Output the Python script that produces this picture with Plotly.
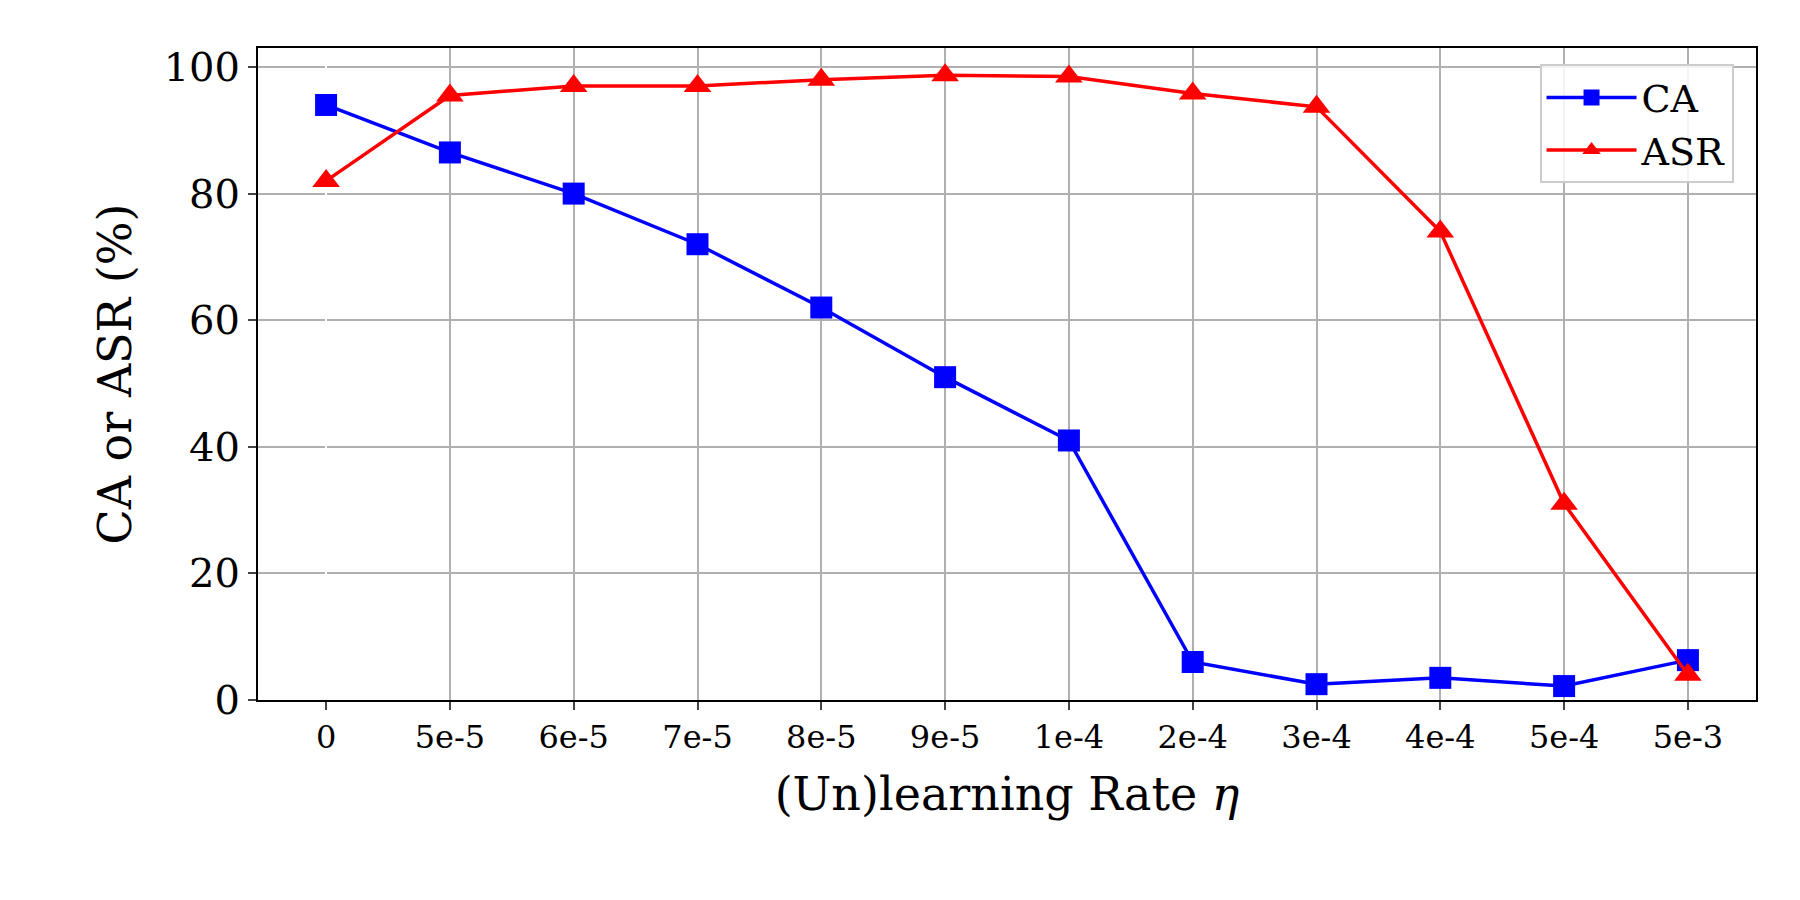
import plotly.graph_objects as go

rates = ["0", "5e-5", "6e-5", "7e-5", "8e-5", "9e-5", "1e-4", "2e-4", "3e-4", "4e-4", "5e-4", "5e-3"]
ca = [94, 86.5, 80, 72, 62, 51, 41, 6, 2.5, 3.5, 2.2, 6.3]
asr = [82, 95.5, 97, 97, 98, 98.7, 98.5, 95.8, 93.7, 74, 31, 4]

font = "DejaVu Serif"
xs = list(range(len(rates)))

fig = go.Figure()
fig.add_trace(go.Scatter(x=xs, y=ca, name="CA", mode="lines+markers",
                         line=dict(color="blue", width=3.5),
                         marker=dict(symbol="square", size=22, color="blue")))
fig.add_trace(go.Scatter(x=xs, y=asr, name="ASR", mode="lines+markers",
                         line=dict(color="red", width=3.5),
                         marker=dict(symbol="triangle-up", size=24, color="red")))

fig.update_layout(
    width=1800, height=900,
    plot_bgcolor="white", paper_bgcolor="white",
    margin=dict(l=250, r=52, t=40, b=208),
    font=dict(family=font, color="black"),
    legend=dict(x=0.985, y=0.975, xanchor="right", yanchor="top",
                bordercolor="#cccccc", borderwidth=2, bgcolor="rgba(255,255,255,0.85)",
                itemwidth=90, tracegroupgap=10,
                font=dict(size=38, family=font)),
)
fig.update_xaxes(
    tickvals=xs, ticktext=rates, range=[-0.55, 11.55],
    showgrid=True, gridcolor="#b0b0b0", gridwidth=1.5,
    showline=True, linecolor="black", linewidth=2, mirror=True,
    ticks="outside", ticklen=8, tickwidth=2, tickfont=dict(size=32, family=font),
    title=dict(text="(Un)learning Rate <i>η</i>", font=dict(size=46, family=font), standoff=22),
)
fig.update_yaxes(
    range=[0, 103], tickvals=[0, 20, 40, 60, 80, 100],
    showgrid=True, gridcolor="#b0b0b0", gridwidth=1.5,
    showline=True, linecolor="black", linewidth=2, mirror=True,
    ticks="outside", ticklen=8, tickwidth=2, tickfont=dict(size=40, family=font),
    title=dict(text="CA or ASR (%)", font=dict(size=46, family=font), standoff=18),
    zeroline=False,
)

fig.write_html("out.html")
